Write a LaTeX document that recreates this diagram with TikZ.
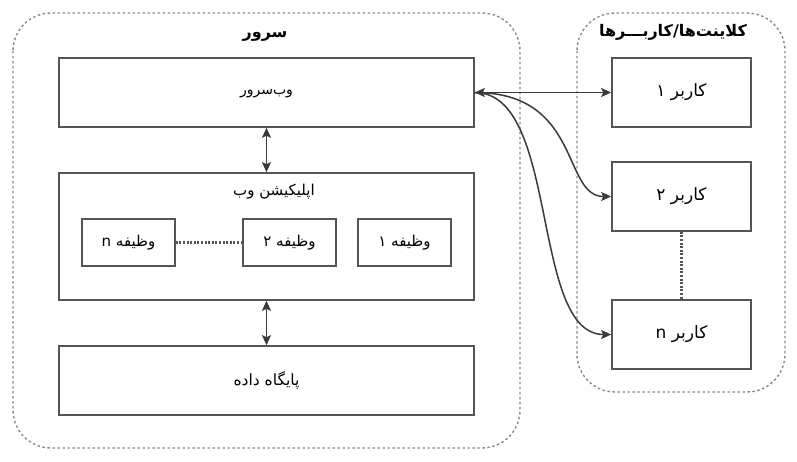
\documentclass[tikz,border=0pt]{standalone}
\usepackage{fontspec}
\newfontfamily\fafont[Script=Arabic]{DejaVu Sans}
\TeXXeTstate=1
\newcommand\FA[1]{\fafont\beginR #1\endR}
\usetikzlibrary{arrows.meta}
\definecolor{boxline}{HTML}{555555}
\definecolor{cont}{HTML}{8A8A8A}
\definecolor{arrc}{HTML}{3A3A3A}
\tikzset{
  box/.style={draw=boxline, line width=1.6pt, fill=white, rectangle, inner sep=0pt},
  container/.style={draw=cont, line width=1.4pt, dash pattern=on 2.5pt off 2.5pt, rounded corners=38pt},
  lbl/.style={font=\fafont\fontsize{15}{17}\selectfont, text=black, inner sep=0pt},
  wslbl/.style={font=\fafont\fontsize{14}{16}\selectfont, text=black, inner sep=0pt},
  ttl/.style={font=\fafont\bfseries\fontsize{16}{18}\selectfont, text=black, inner sep=0pt},
  conn/.style={draw=arrc, line width=1.5pt},
  tip/.style={-{Stealth[length=10pt,width=9pt,inset=2pt]}},
  dtip/.style={{Stealth[length=10pt,width=9pt,inset=2pt]}-{Stealth[length=10pt,width=9pt,inset=2pt]}},
  dotln/.style={draw=boxline, line width=2.4pt, dash pattern=on 2pt off 1.6pt}
}
\begin{document}
\begin{tikzpicture}[x=1pt,y=-1pt]
\useasboundingbox (0,0) rectangle (797,462);
% containers
\draw[container] (13,13) rectangle (520,448);
\draw[container] (577,13) rectangle (785,392);
\node[ttl] (servertitle) at (265,37) {\FA{سرور}};
\node[ttl] (clientstitle) at (673,32) {\FA{کلاینت^^^^200cها/کاربـــرها}};
% server boxes
\node[box, minimum width=415pt, minimum height=69pt] (webserver) at (266.5,92.5) {};
\node[wslbl] (wstext) at (266.5,94) {\FA{وب^^^^200cسرور}};
\node[box, minimum width=415pt, minimum height=127pt] (webapp) at (266.5,236.5) {};
\node[lbl] (apptitle) at (274,192) {\FA{اپلیکیشن وب}};
\node[box, minimum width=93pt, minimum height=47pt, font=\fafont\fontsize{15}{17}\selectfont] (taskn) at (128.5,242.5) {\FA{وظیفه n}};
\node[box, minimum width=93pt, minimum height=47pt, font=\fafont\fontsize{15}{17}\selectfont] (task2) at (289.5,242.5) {\FA{وظیفه ۲}};
\node[box, minimum width=93pt, minimum height=47pt, font=\fafont\fontsize{15}{17}\selectfont] (task1) at (404.5,242.5) {\FA{وظیفه ۱}};
\node[box, minimum width=415pt, minimum height=69pt, font=\fafont\fontsize{15.5}{17}\selectfont] (db) at (266.5,380.5) {\FA{پایگاه داده}};
% clients
\node[box, minimum width=139pt, minimum height=69pt, font=\fafont\fontsize{17}{19}\selectfont] (client1) at (681.5,92.5) {\FA{کاربر ۱}};
\node[box, minimum width=139pt, minimum height=69pt, font=\fafont\fontsize{17}{19}\selectfont] (client2) at (681.5,196.5) {\FA{کاربر ۲}};
\node[box, minimum width=139pt, minimum height=69pt, font=\fafont\fontsize{17}{19}\selectfont] (clientn) at (681.5,334.5) {\FA{کاربر n}};
% dotted links
\draw[dotln] (taskn.east) -- (task2.west);
\draw[dotln] (client2.south) -- (clientn.north);
% arrows
\draw[conn, dtip] (webserver.south) -- (webapp.north);
\draw[conn, dtip] (webapp.south) -- (db.north);
\draw[conn, dtip] (webserver.east) -- (client1.west);
\draw[conn, tip] (webserver.east) .. controls (582,92.5) and (562,196.5) .. (client2.west);
\draw[conn, tip] (webserver.east) .. controls (560,92.5) and (530,334.5) .. (clientn.west);
\end{tikzpicture}
\end{document}
